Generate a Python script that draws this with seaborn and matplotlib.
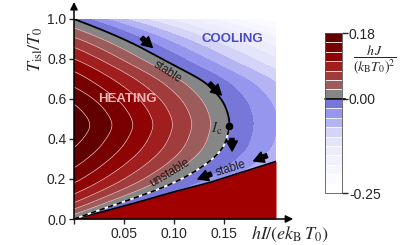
import numpy as np
import matplotlib
matplotlib.use("Agg")
import matplotlib.pyplot as plt
import seaborn as sns

sns.set_style("ticks")
plt.rcParams['font.family'] = ['Liberation Sans', 'DejaVu Sans']
plt.rcParams['mathtext.fontset'] = 'stix'

# zero heat-flux line J = 0 (T_isl/T0 vs hI/(e kB T0))
zero_T = [0.0, 0.053, 0.103, 0.175, 0.22, 0.27, 0.353, 0.465, 0.495, 0.587, 0.687, 0.77, 0.87, 0.945, 1.0]
zero_I = [0.0, 0.030, 0.060, 0.099, 0.115, 0.132, 0.150, 0.156, 0.156, 0.150, 0.132, 0.099, 0.063, 0.029, 0.0]
# heat flux along the I = 0 axis
axis_T = [0.0, 0.02, 0.045, 0.078, 0.123, 0.178, 0.253, 0.353, 0.47, 0.58, 0.66, 0.74, 0.80, 0.86, 0.91, 0.955, 1.0]
axis_J = [0.0, 0.0257, 0.051, 0.077, 0.103, 0.129, 0.154, 0.18, 0.2, 0.18, 0.154, 0.129, 0.103, 0.077, 0.051, 0.0257, 0.0]
# lower stable branch (below it: normal state, strong heating)
low_I = [0.0, 0.029, 0.063, 0.098, 0.136, 0.202]
low_T = [0.0, 0.037, 0.083, 0.133, 0.183, 0.288]
Ic = (0.153, 0.465)

# cooling side: J = -G (I^p - I0^p), heating side: J = J_axis (1 - (I/I0)^q)
G, p, q = 0.968, 0.84, 1.1

step = 0.18 / 7
levels = np.r_[-0.25, -step * np.arange(9, 0, -1), step * np.arange(0, 8)]
colors = ['#ffffff', '#fafaff', '#f6f6fe', '#f1f1fd', '#ececfc', '#e4e4fb',
          '#d4d4f9', '#b4b4f5', '#9696ef', '#7777da',
          '#868686', '#9c5c5c', '#a03c3c', '#a01e1e', '#8e0404', '#780000', '#620000']


def smooth(v, n=15):
    k = np.exp(-0.5 * (np.arange(-3 * n, 3 * n + 1) / n) ** 2)
    k /= k.sum()
    pad = np.pad(v, 3 * n, mode='reflect', reflect_type='odd')
    return np.convolve(pad, k, mode='valid')


yy = np.linspace(0, 1, 501)
xx = np.linspace(0, 0.202, 405)
x0 = np.clip(smooth(np.interp(yy, zero_T, zero_I)), 0, None)
F = np.clip(smooth(np.interp(yy, axis_T, axis_J)), 0, None)
X, Y = np.meshgrid(xx, yy)
X0 = x0[:, None]
FF = F[:, None]
r = X / np.maximum(X0, 1e-9)
J = np.where(X < X0, FF * (1 - r ** q), -G * (X ** p - X0 ** p))

fig = plt.figure(figsize=(4.16, 2.45), dpi=100)
ax = fig.add_axes([74 / 416, 26 / 245, 202 / 416, 200 / 245])

cs = ax.contourf(X, Y, J, levels=levels, colors=colors)
ax.contourf(X, Y, J, levels=[0.18, 10], colors=['#520000'])
ax.contour(X, Y, J, levels=levels[11:], colors='#efc4c4', linewidths=0.5)

# normal-state region below the lower branch
ax.fill_between(low_I, 0, low_T, color='#a00000', lw=0, zorder=3)
ax.plot(low_I, low_T, color='k', lw=1.2, zorder=4)

# zero line: stable above Ic, unstable below
up = yy >= Ic[1]
lo = yy <= Ic[1]
ax.plot(x0[up], yy[up], color='k', lw=1.3, zorder=4)
ax.plot(x0[lo], yy[lo], color='white', lw=1.3, zorder=4)
ax.plot(x0[lo], yy[lo], color='k', lw=1.3, ls=(0, (3, 2)), zorder=5)
ax.plot(np.interp(Ic[1], yy, x0), Ic[1], 'o', color='k', ms=4.5, zorder=6)

arrow = dict(arrowstyle='simple,head_length=0.6,head_width=0.65,tail_width=0.25',
             mutation_scale=12, fc='k', ec='k', shrinkA=0, shrinkB=0)
for start, end in [((0.0677, 0.906), (0.0783, 0.858)),
                   ((0.1353, 0.678), (0.1473, 0.62)),
                   ((0.158, 0.403), (0.158, 0.34)),
                   ((0.193, 0.317), (0.1797, 0.29)),
                   ((0.1373, 0.225), (0.124, 0.2))]:
    ax.annotate('', xy=end, xytext=start, arrowprops=arrow, zorder=7)

ax.text(0.158, 0.90, 'COOLING', color='#4b4bc8', fontsize=9.5, fontweight='bold',
        ha='center', va='center')
ax.text(0.0535, 0.60, 'HEATING', color='#f4b4b4', fontsize=9.5, fontweight='bold',
        ha='center', va='center')
ax.text(0.093, 0.735, 'stable', fontsize=8.5, rotation=-33, color='#1a1a1a',
        ha='center', va='center', zorder=8)
ax.text(0.096, 0.228, 'unstable', fontsize=8.5, rotation=31, color='#1a1a1a',
        ha='center', va='center', zorder=8)
ax.text(0.157, 0.25, 'stable', fontsize=8.5, rotation=17, color='#1a1a1a',
        ha='center', va='center', zorder=8)
ax.text(0.143, 0.45, r'$I_{\rm c}$', fontsize=11, ha='center', va='center', zorder=8)

ax.set_xlim(0, 0.202)
ax.set_ylim(0, 1.0)
ax.set_xticks([0, 0.05, 0.10, 0.15])
ax.set_xticklabels(['', '0.05', '0.10', '0.15'])
ax.set_yticks([0, 0.2, 0.4, 0.6, 0.8, 1.0])
ax.set_yticklabels(['0.0', '0.2', '0.4', '0.6', '0.8', '1.0'])
ax.tick_params(labelsize=10, length=3.5, width=1, direction='out', pad=2)
for s in ax.spines.values():
    s.set_visible(False)
axis_arrow = dict(arrowstyle='-|>', lw=1.1, color='k', mutation_scale=11, shrinkA=0, shrinkB=0)
ax.annotate('', xy=(0, 1.085), xytext=(0, 0), xycoords='axes fraction',
            arrowprops=axis_arrow, annotation_clip=False, zorder=9)
ax.annotate('', xy=(1.085, 0), xytext=(0, 0), xycoords='axes fraction',
            arrowprops=axis_arrow, annotation_clip=False, zorder=9)

fig.text(36 / 416, 1 - 49 / 245, r'$T_{\rm isl}/T_0$', rotation=90, fontsize=13,
         ha='center', va='center')
fig.text(290 / 416, 1 - 234 / 245, r'$hI/(ek_{\rm B}\,T_0)$', fontsize=13,
         ha='center', va='center')

cax = fig.add_axes([325 / 416, 52 / 245, 17 / 416, 160 / 245])
cbar = fig.colorbar(cs, cax=cax, ticks=[-0.25, 0, 0.18], drawedges=True)
cbar.dividers.set_color('white')
cbar.dividers.set_linewidth(0.6)
cbar.outline.set_linewidth(0.6)
cbar.outline.set_edgecolor('#555555')
cbar.ax.set_yticklabels(['-0.25', '0.00', '0.18'])
cbar.ax.tick_params(labelsize=10, length=4, width=1, pad=1)
cbar.ax.plot([0, 1.2], [0, 0], color='k', lw=1.2, clip_on=False,
             transform=cbar.ax.get_yaxis_transform())
fig.text(375 / 416, 1 - 60 / 245, r'$\dfrac{h\,J}{(k_{\rm B}T_0)^2}$', fontsize=10,
         ha='center', va='center')

fig.savefig('out.png', dpi=100)
